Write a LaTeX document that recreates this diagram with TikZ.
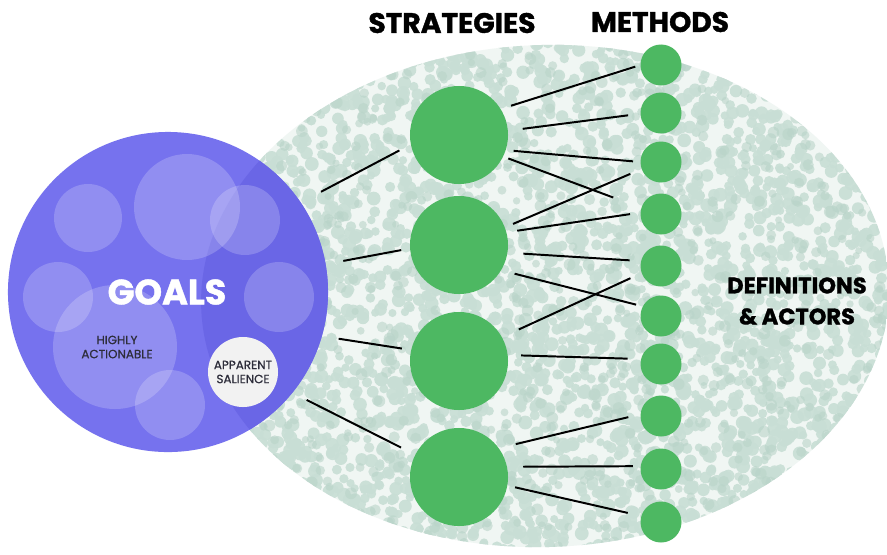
\documentclass[tikz,border=0pt]{standalone}
\usepackage{fontspec}
\setmainfont{Poppins}[BoldFeatures={FakeBold=1.3}, UprightFeatures={FakeBold=0.7}]
\usetikzlibrary{positioning,calc}
\definecolor{goalblue}{HTML}{7672EE}
\definecolor{goaldark}{HTML}{6A66E6}
\definecolor{stratgreen}{HTML}{4DB862}
\definecolor{fieldbase}{HTML}{F0F6F3}
\definecolor{fielddot}{HTML}{C8DED5}
\definecolor{fielddeep}{HTML}{B9D4C9}
\definecolor{smalltext}{HTML}{2D2D3A}
\tikzset{
goalnode/.style={circle, fill=goalblue, minimum size=8cm, inner sep=0pt, outer sep=0pt},
stratnode/.style={circle, fill=stratgreen, minimum size=2.45cm, inner sep=0pt, outer sep=0pt},
methodnode/.style={circle, fill=stratgreen, minimum size=1.025cm, inner sep=0pt, outer sep=0pt},
salnode/.style={circle, fill=white!95!black, minimum size=1.75cm, inner sep=0pt, align=center,
                text=smalltext, font=\fontsize{8.5}{10}\selectfont},
bubble/.style={fill=white, fill opacity=0.2},
headtext/.style={font=\bfseries\fontsize{20}{24}\selectfont},
link/.style 2 args={draw=black, line width=1.4pt, shorten <=#1*0.025cm, shorten >=#2*0.025cm}
}

\begin{document}
\begin{tikzpicture}[x=0.025cm, y=-0.025cm, align=center]
\useasboundingbox (0,0) rectangle (887,554);
\fill[white] (0,0) rectangle (887,554);

%Speckled field
\begin{scope}
\clip[rotate around={2:(545,296)}] (545,296) ellipse [x radius=344, y radius=251];
\fill[fieldbase] (180,30) rectangle (900,560);
\pgfmathsetseed{11}
\foreach \i in {1,...,3600}{
  \pgfmathsetmacro\dx{545+352*rand}
  \pgfmathsetmacro\dy{296+262*rand}
  \fill[fielddot, opacity=0.9] (\dx,\dy) circle ({4+3*rnd});
}
\foreach \i in {1,...,900}{
  \pgfmathsetmacro\dx{545+352*rand}
  \pgfmathsetmacro\dy{296+262*rand}
  \fill[fielddeep, opacity=0.6] (\dx,\dy) circle ({3.5+2.5*rnd});
}
\end{scope}

%Goals
\node[goalnode] (goals) at (168,292) {};
\begin{scope}
\clip (168,292) circle (160);
\fill[goaldark, rotate around={2:(545,296)}] (545,296) ellipse [x radius=344, y radius=251];
\end{scope}
\fill[bubble] (88,218) circle (34);
\fill[bubble] (187,207) circle (53);
\fill[bubble] (245,220) circle (35);
\fill[bubble] (58,297) circle (35);
\fill[bubble] (115,347) circle (62);
\fill[bubble] (279,297) circle (35);
\fill[bubble] (170,405) circle (35);
\node[text=white, font=\bfseries\fontsize{25}{28}\selectfont] (goalslabel) at (167,292) {GOALS};
\node[text=smalltext, font=\fontsize{8.5}{10}\selectfont] (actionable) at (117,347) {HIGHLY\\ACTIONABLE};
\node[salnode] (salience) at (243,372) {APPARENT\\SALIENCE};

%Strategies
\node[stratnode] (s1) at (459,135) {};
\node[stratnode] (s2) at (459,245) {};
\node[stratnode] (s3) at (459,361) {};
\node[stratnode] (s4) at (459,477) {};

%Methods
\node[methodnode] (m1) at (661,65) {};
\node[methodnode] (m2) at (661,113) {};
\node[methodnode] (m3) at (661,162) {};
\node[methodnode] (m4) at (661,214) {};
\node[methodnode] (m5) at (661,266) {};
\node[methodnode] (m6) at (661,316) {};
\node[methodnode] (m7) at (661,364) {};
\node[methodnode] (m8) at (661,416) {};
\node[methodnode] (m9) at (661,469) {};
\node[methodnode] (m10) at (661,522) {};

%Headings
\node[headtext] (strathead) at (452,23) {STRATEGIES};
\node[headtext] (methhead) at (660,22) {METHODS};
\node[font=\bfseries\fontsize{16}{22}\selectfont] (defs) at (797,301) {DEFINITIONS\\\& ACTORS};

%Goals to strategies
\draw[link={23}{13}] (goals.34) -- (s1.191);
\draw[link={18}{9}] (goals.10) -- (s2.184);
\draw[link={17}{9.5}] (goals.-16) -- (s3.167);
\draw[link={16}{16}] (goals.-39) -- (s4.153);

%Strategies to methods
\draw[link={11}{5.5}] (s1.32) -- (m1.180);
\draw[link={15}{12.5}] (s1.5) -- (m2.182);
\draw[link={8}{7.5}] (s1.-18) -- (m3.180);
\draw[link={5.6}{30}] (s1.-26) -- (m4.163);
\draw[link={9}{12.4}] (s2.21) -- (m3.200);
\draw[link={11}{10.6}] (s2.15) -- (m4.176);
\draw[link={16}{11.5}] (s2.-9) -- (m5.166);
\draw[link={14}{7}] (s2.-31) -- (m6.152);
\draw[link={18.6}{12.4}] (s3.29) -- (m5.200);
\draw[link={13.5}{13.5}] (s3.7) -- (m7.166);
\draw[link={17.6}{12.6}] (s4.36) -- (m8.175);
\draw[link={16.3}{7.8}] (s4.12) -- (m9.172);
\draw[link={8}{14}] (s4.-10) -- (m10.163);
\end{tikzpicture}
\end{document}
